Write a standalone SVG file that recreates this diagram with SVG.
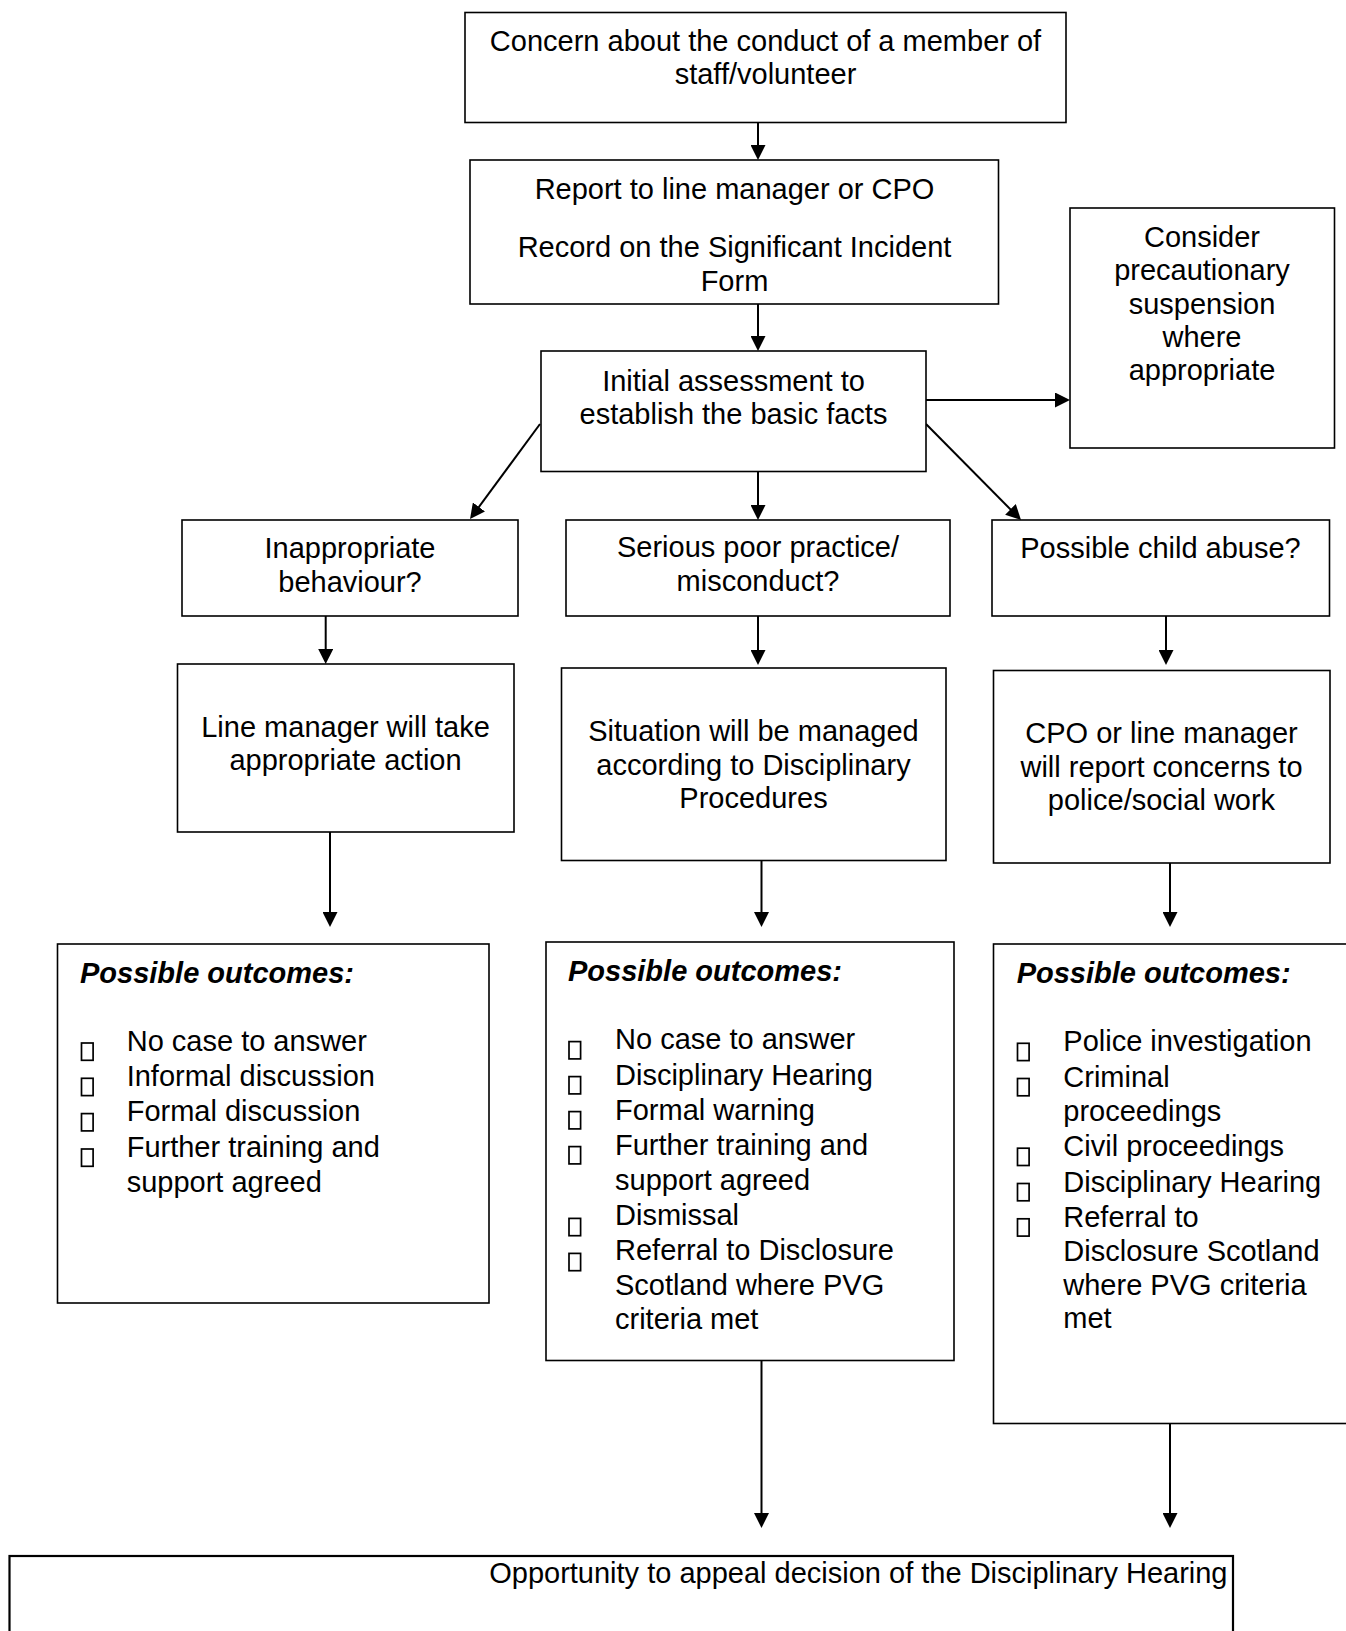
<svg xmlns="http://www.w3.org/2000/svg" width="1346" height="1631" viewBox="0 0 1346 1631">
<style>
.box{fill:#fff;stroke:#000;stroke-width:1.6}
.t{font-family:"Liberation Sans",Arial,sans-serif;font-size:29px;fill:#000}
.c{text-anchor:middle}
.h{font-weight:bold;font-style:italic}
.bul{fill:none;stroke:#000;stroke-width:1.7}
.conn{stroke:#000;stroke-width:2;fill:none;marker-end:url(#ah)}
</style>
<defs>
<marker id="ah" markerUnits="userSpaceOnUse" markerWidth="16" markerHeight="15" refX="12" refY="7.5" orient="auto">
<path d="M0,0 L15,7.5 L0,15 z" fill="#000"/>
</marker>
</defs>
<rect width="1346" height="1631" fill="#fff"/>

<g id="connectors">
<line class="conn" x1="758" y1="123" x2="758" y2="157"/>
<line class="conn" x1="758" y1="304" x2="758" y2="348"/>
<line class="conn" x1="926" y1="400" x2="1067" y2="400"/>
<line class="conn" x1="540" y1="424" x2="471.8" y2="516.6"/>
<line class="conn" x1="758" y1="471" x2="758" y2="517"/>
<line class="conn" x1="926" y1="424" x2="1018.9" y2="517.9"/>
<line class="conn" x1="325.7" y1="616" x2="325.7" y2="661"/>
<line class="conn" x1="758" y1="616" x2="758" y2="662"/>
<line class="conn" x1="1166" y1="616" x2="1166" y2="662"/>
<line class="conn" x1="330" y1="832" x2="330" y2="924"/>
<line class="conn" x1="761.5" y1="861" x2="761.5" y2="924"/>
<line class="conn" x1="1170" y1="863" x2="1170" y2="924"/>
<line class="conn" x1="761.5" y1="1361" x2="761.5" y2="1525"/>
<line class="conn" x1="1170" y1="1424" x2="1170" y2="1525"/>
</g>

<g id="n-concern">
<rect class="box" x="465" y="12.5" width="601" height="110"/>
<text class="t c" x="765.5" y="51">Concern about the conduct of a member of</text>
<text class="t c" x="765.5" y="84">staff/volunteer</text>
</g>

<g id="n-report">
<rect class="box" x="470" y="160" width="528.5" height="144"/>
<text class="t c" x="734.5" y="199">Report to line manager or CPO</text>
<text class="t c" x="734.5" y="257">Record on the Significant Incident</text>
<text class="t c" x="734.5" y="290.5">Form</text>
</g>

<g id="n-initial">
<rect class="box" x="541" y="351" width="385" height="120.5"/>
<text class="t c" x="733.5" y="390.5">Initial assessment to</text>
<text class="t c" x="733.5" y="424">establish the basic facts</text>
</g>

<g id="n-suspension">
<rect class="box" x="1070" y="208" width="264.5" height="240"/>
<text class="t c" x="1202" y="247">Consider</text>
<text class="t c" x="1202" y="280">precautionary</text>
<text class="t c" x="1202" y="313.5">suspension</text>
<text class="t c" x="1202" y="347">where</text>
<text class="t c" x="1202" y="380">appropriate</text>
</g>

<g id="n-inappropriate">
<rect class="box" x="182" y="520" width="336" height="96"/>
<text class="t c" x="350" y="558">Inappropriate</text>
<text class="t c" x="350" y="592">behaviour?</text>
</g>

<g id="n-serious">
<rect class="box" x="566" y="520" width="384" height="96"/>
<text class="t c" x="758" y="557">Serious poor practice/</text>
<text class="t c" x="758" y="591">misconduct?</text>
</g>

<g id="n-child">
<rect class="box" x="992" y="520" width="337.5" height="96"/>
<text class="t c" x="1160.5" y="558">Possible child abuse?</text>
</g>

<g id="n-linemanager">
<rect class="box" x="177.5" y="664" width="336.5" height="168"/>
<text class="t c" x="345.5" y="737">Line manager will take</text>
<text class="t c" x="345.5" y="770">appropriate action</text>
</g>

<g id="n-situation">
<rect class="box" x="561.5" y="668" width="384.5" height="192.5"/>
<text class="t c" x="753.5" y="741">Situation will be managed</text>
<text class="t c" x="753.5" y="774.5">according to Disciplinary</text>
<text class="t c" x="753.5" y="808">Procedures</text>
</g>

<g id="n-cpo">
<rect class="box" x="993.5" y="670.5" width="336.5" height="192.5"/>
<text class="t c" x="1161.5" y="743">CPO or line manager</text>
<text class="t c" x="1161.5" y="776.5">will report concerns to</text>
<text class="t c" x="1161.5" y="810">police/social work</text>
</g>

<g id="n-outcomes1">
<rect class="box" x="57.5" y="944" width="431.5" height="359"/>
<text class="t h" x="80" y="983">Possible outcomes:</text>
<rect class="bul" x="81.5" y="1043" width="11.6" height="17.3"/>
<rect class="bul" x="81.5" y="1078.3" width="11.6" height="17.3"/>
<rect class="bul" x="81.5" y="1113.6" width="11.6" height="17.3"/>
<rect class="bul" x="81.5" y="1149" width="11.6" height="17.3"/>
<text class="t" x="126.7" y="1050.7">No case to answer</text>
<text class="t" x="126.7" y="1086">Informal discussion</text>
<text class="t" x="126.7" y="1121.3">Formal discussion</text>
<text class="t" x="126.7" y="1156.6">Further training and</text>
<text class="t" x="126.7" y="1192">support agreed</text>
</g>

<g id="n-outcomes2">
<rect class="box" x="546" y="942" width="408" height="418.5"/>
<text class="t h" x="568" y="981">Possible outcomes:</text>
<rect class="bul" x="569" y="1041.6" width="11.6" height="17.3"/>
<rect class="bul" x="569" y="1076.6" width="11.6" height="17.3"/>
<rect class="bul" x="569" y="1111.6" width="11.6" height="17.3"/>
<rect class="bul" x="569" y="1146.6" width="11.6" height="17.3"/>
<rect class="bul" x="569" y="1218.4" width="11.6" height="17.3"/>
<rect class="bul" x="569" y="1253.4" width="11.6" height="17.3"/>
<text class="t" x="615" y="1049.3">No case to answer</text>
<text class="t" x="615" y="1084.5">Disciplinary Hearing</text>
<text class="t" x="615" y="1120">Formal warning</text>
<text class="t" x="615" y="1155">Further training and</text>
<text class="t" x="615" y="1189.5">support agreed</text>
<text class="t" x="615" y="1225">Dismissal</text>
<text class="t" x="615" y="1260">Referral to Disclosure</text>
<text class="t" x="615" y="1294.5">Scotland where PVG</text>
<text class="t" x="615" y="1328.5">criteria met</text>
</g>

<g id="n-outcomes3">
<rect class="box" x="993.5" y="944" width="370" height="479.5"/>
<text class="t h" x="1016.7" y="983">Possible outcomes:</text>
<rect class="bul" x="1017.5" y="1043.3" width="11.6" height="17.3"/>
<rect class="bul" x="1017.5" y="1078.5" width="11.6" height="17.3"/>
<rect class="bul" x="1017.5" y="1148.2" width="11.6" height="17.3"/>
<rect class="bul" x="1017.5" y="1183.5" width="11.6" height="17.3"/>
<rect class="bul" x="1017.5" y="1218.8" width="11.6" height="17.3"/>
<text class="t" x="1063.3" y="1051">Police investigation</text>
<text class="t" x="1063.3" y="1086.5">Criminal</text>
<text class="t" x="1063.3" y="1121">proceedings</text>
<text class="t" x="1063.3" y="1155.7">Civil proceedings</text>
<text class="t" x="1063.3" y="1191.5">Disciplinary Hearing</text>
<text class="t" x="1063.3" y="1226.5">Referral to</text>
<text class="t" x="1063.3" y="1260.7">Disclosure Scotland</text>
<text class="t" x="1063.3" y="1295">where PVG criteria</text>
<text class="t" x="1063.3" y="1328.3">met</text>
</g>

<g id="n-appeal">
<rect class="box" x="9.5" y="1556" width="1223.5" height="100" style="stroke-width:2.2"/>
<text class="t" x="1227.5" y="1583" text-anchor="end">Opportunity to appeal decision of the Disciplinary Hearing</text>
</g>
</svg>
